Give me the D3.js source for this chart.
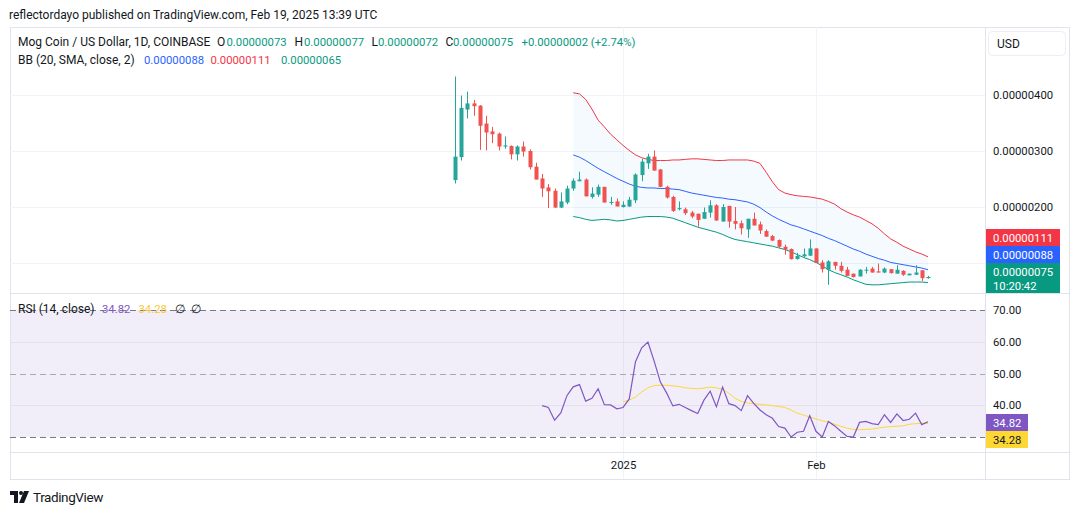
<!DOCTYPE html>
<html>
<head>
<meta charset="utf-8">
<script src="https://cdn.jsdelivr.net/npm/d3@7"></script>
<style>
  body { margin: 0; background: #fff; }
  text { font-family: Roboto, "Liberation Sans", sans-serif; fill: #131722; }
</style>
</head>
<body>
<div id="chart"></div>
<script>
// data (prices in units of 0.000001 USD)
const firstDay = '2024-12-05';
const lastDay = '2025-02-19';
const open  = [2.48,2.89,3.74,3.85,3.81,3.49,3.35,3.31,3.08,3.09,2.94,3.08,3.00,2.72,2.51,2.35,2.29,1.99,2.08,2.33,2.46,2.49,2.18,2.22,2.36,2.08,2.10,2.00,2.01,2.12,2.57,2.78,2.90,2.67,2.36,2.18,1.96,1.96,1.90,1.88,1.79,1.90,2.03,1.74,2.02,1.75,1.71,1.60,1.79,1.69,1.57,1.48,1.41,1.29,1.25,1.07,1.12,1.13,1.26,1.01,0.88,1.02,0.95,0.88,0.81,0.76,0.87,0.90,0.85,0.83,0.89,0.81,0.86,0.78,0.79,0.87,0.73];
const high  = [4.33,3.99,4.06,3.91,3.82,3.63,3.43,3.33,3.26,3.10,3.10,3.17,3.03,2.79,2.59,2.41,2.33,2.26,2.38,2.51,2.63,2.51,2.35,2.40,2.36,2.18,2.15,2.10,2.18,2.60,2.86,2.95,3.01,2.68,2.38,2.20,2.10,1.99,1.93,1.88,1.99,2.12,2.05,2.05,2.02,2.00,1.76,1.79,1.90,1.74,1.60,1.50,1.42,1.33,1.26,1.18,1.26,1.42,1.26,1.05,1.05,1.02,1.02,0.93,0.81,0.89,0.93,0.93,0.99,0.92,0.89,0.96,0.87,0.81,0.96,0.87,0.77];
const low   = [2.42,2.83,3.58,3.63,3.02,3.01,3.14,3.01,3.04,2.85,2.83,2.90,2.67,2.49,2.18,1.98,1.98,1.98,2.05,2.29,2.46,2.19,2.15,2.18,2.08,2.04,2.01,1.99,2.00,2.07,2.46,2.68,2.65,2.35,2.15,1.91,1.94,1.86,1.80,1.65,1.79,1.81,1.75,1.74,1.63,1.60,1.51,1.45,1.67,1.52,1.47,1.39,1.27,1.15,1.06,1.06,1.10,1.13,1.00,0.83,0.61,0.88,0.83,0.77,0.74,0.76,0.81,0.83,0.83,0.82,0.81,0.81,0.77,0.78,0.79,0.68,0.72];
const close = [2.90,3.77,3.85,3.80,3.45,3.33,3.30,3.08,3.10,2.94,3.08,2.99,2.71,2.49,2.33,2.28,1.99,2.10,2.33,2.47,2.49,2.19,2.24,2.36,2.08,2.09,2.01,2.04,2.13,2.58,2.81,2.90,2.65,2.36,2.17,1.93,1.98,1.89,1.83,1.77,1.91,2.03,1.76,2.00,1.74,1.70,1.62,1.79,1.67,1.58,1.47,1.40,1.29,1.24,1.07,1.125,1.155,1.26,1.00,0.89,1.03,0.95,0.86,0.77,0.75,0.88,0.88,0.83,0.83,0.90,0.82,0.88,0.79,0.81,0.83,0.73,0.75];

// Bollinger bands, from day 19 on
const bbStart = 19;
const bbUpper = [4.04,4.02,3.92,3.75,3.55,3.43,3.30,3.20,3.10,3.01,2.93,2.88,2.85,2.83,2.83,2.83,2.84,2.84,2.85,2.86,2.86,2.85,2.84,2.83,2.83,2.84,2.84,2.84,2.84,2.82,2.78,2.62,2.45,2.31,2.25,2.22,2.20,2.19,2.18,2.16,2.14,2.10,2.05,1.97,1.91,1.86,1.82,1.76,1.70,1.62,1.52,1.43,1.37,1.30,1.25,1.20,1.16,1.11];
const bbBasis = [2.93,2.89,2.83,2.76,2.69,2.63,2.57,2.51,2.46,2.41,2.37,2.35,2.34,2.34,2.33,2.33,2.32,2.31,2.28,2.25,2.23,2.21,2.19,2.17,2.16,2.14,2.13,2.11,2.09,2.05,1.99,1.91,1.84,1.78,1.73,1.68,1.65,1.61,1.57,1.53,1.49,1.44,1.40,1.35,1.30,1.25,1.21,1.16,1.12,1.08,1.05,1.01,0.99,0.97,0.95,0.93,0.91,0.88];
const bbLower = [1.83,1.81,1.78,1.76,1.77,1.78,1.77,1.75,1.76,1.78,1.80,1.82,1.83,1.83,1.83,1.82,1.80,1.76,1.72,1.68,1.64,1.61,1.58,1.55,1.51,1.46,1.42,1.40,1.38,1.36,1.34,1.32,1.30,1.27,1.24,1.20,1.15,1.10,1.06,1.01,0.95,0.88,0.83,0.79,0.75,0.70,0.66,0.62,0.61,0.61,0.62,0.63,0.64,0.65,0.66,0.66,0.66,0.65];

// RSI from day 14, its moving average from day 27
const rsiStart = 14;
const rsi = [39.9,39.3,35.3,37.6,43.1,45.8,46.5,41.3,42.2,45.2,40.2,40.1,38.9,39.3,42.0,53.7,58.1,59.9,53.9,47.3,43.9,39.8,40.3,39.3,38.3,37.4,41.6,44.4,39.5,45.7,40.5,39.9,38.3,43.0,40.6,38.5,37.0,35.9,33.3,32.8,30.0,31.5,31.8,36.7,31.8,30.0,34.9,33.5,31.8,30.2,30.0,34.6,34.9,34.2,33.9,37.0,34.6,37.3,35.2,35.6,37.5,33.9,34.82];
const rsiMaStart = 27;
const rsiMa = [41.1,41.6,42.6,44.2,45.5,46.2,46.3,46.3,46.1,45.9,45.5,45.3,45.2,45.4,45.7,45.5,45.0,43.8,42.2,41.2,40.7,40.5,40.3,40.1,39.9,39.6,39.3,38.5,37.5,36.9,36.3,35.7,35.1,34.7,34.0,33.4,32.8,32.4,32.3,32.4,32.5,32.8,33.1,33.3,33.4,33.5,34.0,34.2,34.3,34.28];

const priceTicks = [2, 3, 4];
const rsiTicks = [40, 50, 60, 70];
const rsiBands = [30, 50, 70];
const timeTicks = ['2025-01-01', '2025-02-01'];
const timeTickLabels = ['2025', 'Feb'];

// CHART START
const width = 1080;
const height = 515;
const frame = { left: 10, right: 1069, top: 27, bottom: 479, axisX: 985, paneSplit: 293, timeAxis: 452 };
const up = '#26a69a', down = '#ef5350';
const numSize = 11.3; // numbers are a bit narrower in the original

const svg = d3.select('div#chart').append('svg').attr('width', width).attr('height', height);

const parse = d3.utcParse('%Y-%m-%d');
const days = d3.utcDay.range(parse(firstDay), d3.utcDay.offset(parse(lastDay), 1));
const candles = days.map((d, i) => ({ date: d, o: open[i], h: high[i], l: low[i], c: close[i] }));

const x = d3.scaleUtc().domain([parse(firstDay), parse(lastDay)]).range([455, 928]);
const y = d3.scaleLinear().domain([1, 4]).range([263, 95]);
const yRsi = d3.scaleLinear().domain([30, 70]).range([437, 310]);
const fmtPrice = d => d3.format('.8f')(d * 1e-6);

// header
svg.append('text').attr('x', 9).attr('y', 19).attr('font-size', 12)
    .text('reflectordayo published on TradingView.com, Feb 19, 2025 13:39 UTC');

// frame
svg.append('rect').attr('x', frame.left + 0.5).attr('y', frame.top + 0.5)
    .attr('width', frame.right - frame.left).attr('height', frame.bottom - frame.top)
    .attr('fill', '#fff').attr('stroke', '#e0e3eb');

// grid
const gridGroup = svg.append('g').attr('class', 'grid');
gridGroup.selectAll('line.h').data(priceTicks.concat([1])).join('line')
    .attr('x1', frame.left).attr('x2', frame.axisX)
    .attr('y1', d => Math.round(y(d)) + 0.5).attr('y2', d => Math.round(y(d)) + 0.5)
    .attr('stroke', '#f0f3fa');

// RSI background
svg.append('rect').attr('x', frame.left + 1).attr('y', yRsi(70))
    .attr('width', frame.axisX - frame.left - 1).attr('height', yRsi(30) - yRsi(70))
    .attr('fill', 'rgba(126,87,194,0.1)');

svg.append('g').selectAll('line').data([40, 60]).join('line')
    .attr('x1', frame.left).attr('x2', frame.axisX)
    .attr('y1', d => Math.round(yRsi(d)) + 0.5).attr('y2', d => Math.round(yRsi(d)) + 0.5)
    .attr('stroke', '#e4e0ee');

// vertical grid
gridGroup.selectAll('line.v').data(timeTicks).join('line')
    .attr('x1', d => Math.round(x(parse(d))) + 0.5).attr('x2', d => Math.round(x(parse(d))) + 0.5)
    .attr('y1', frame.top).attr('y2', frame.bottom)
    .attr('stroke', '#f0f3fa');

// RSI band lines
svg.append('g').selectAll('line').data(rsiBands).join('line')
    .attr('x1', frame.left).attr('x2', frame.axisX)
    .attr('y1', d => Math.round(yRsi(d)) + 0.5).attr('y2', d => Math.round(yRsi(d)) + 0.5)
    .attr('stroke', d => d === 50 ? '#a8a8b0' : '#787b86')
    .attr('stroke-dasharray', '6,4');

// Bollinger bands
const bb = bbUpper.map((u, k) => ({ date: days[bbStart + k], u: u, m: bbBasis[k], l: bbLower[k] }));
const bbGroup = svg.append('g').attr('class', 'bb');
bbGroup.append('path').datum(bb)
    .attr('d', d3.area().x(d => x(d.date)).y0(d => y(d.l)).y1(d => y(d.u)))
    .attr('fill', 'rgba(33,150,243,0.05)');
[['u', '#f23645'], ['m', '#2962ff'], ['l', '#089981']].forEach(([k, col]) => {
    bbGroup.append('path').datum(bb)
        .attr('d', d3.line().x(d => x(d.date)).y(d => y(d[k])))
        .attr('fill', 'none').attr('stroke', col).attr('stroke-width', 1);
});

// candles
const cg = svg.append('g').attr('class', 'candles').selectAll('g').data(candles).join('g');
cg.append('line')
    .attr('x1', d => Math.round(x(d.date)) + 0.5).attr('x2', d => Math.round(x(d.date)) + 0.5)
    .attr('y1', d => y(d.h)).attr('y2', d => y(d.l))
    .attr('stroke', d => d.c >= d.o ? up : down);
cg.append('rect')
    .attr('x', d => Math.round(x(d.date)) - 1.5)
    .attr('y', d => y(Math.max(d.o, d.c)))
    .attr('width', 4)
    .attr('height', d => Math.max(1, Math.abs(y(d.o) - y(d.c))))
    .attr('fill', d => d.c >= d.o ? up : down);

// RSI lines
const rsiGroup = svg.append('g').attr('class', 'rsi');
rsiGroup.append('path').datum(rsiMa.map((v, k) => ({ date: days[rsiMaStart + k], v: v })))
    .attr('d', d3.line().x(d => x(d.date)).y(d => yRsi(d.v)))
    .attr('fill', 'none').attr('stroke', '#fdd835').attr('stroke-width', 1);
rsiGroup.append('path').datum(rsi.map((v, k) => ({ date: days[rsiStart + k], v: v })))
    .attr('d', d3.line().x(d => x(d.date)).y(d => yRsi(d.v)))
    .attr('fill', 'none').attr('stroke', '#7e57c2').attr('stroke-width', 1.2);

// separators
const sep = svg.append('g').attr('stroke', '#e0e3eb');
sep.append('line').attr('x1', frame.axisX + 0.5).attr('x2', frame.axisX + 0.5).attr('y1', frame.top).attr('y2', frame.bottom);
sep.append('line').attr('x1', frame.left).attr('x2', frame.right).attr('y1', frame.paneSplit + 0.5).attr('y2', frame.paneSplit + 0.5);
sep.append('line').attr('x1', frame.left).attr('x2', frame.right).attr('y1', frame.timeAxis + 0.5).attr('y2', frame.timeAxis + 0.5);

// axes
const styleTicks = g => g.call(s => s.select('.domain').remove())
    .selectAll('text').attr('font-size', numSize).attr('font-family', 'Roboto').attr('fill', '#131722');

svg.append('g').attr('transform', `translate(${frame.axisX},0)`)
    .call(d3.axisRight(y).tickValues(priceTicks).tickFormat(fmtPrice).tickSize(0).tickPadding(8))
    .call(styleTicks);

svg.append('g').attr('transform', `translate(${frame.axisX},0)`)
    .call(d3.axisRight(yRsi).tickValues(rsiTicks).tickFormat(d3.format('.2f')).tickSize(0).tickPadding(8))
    .call(styleTicks);

svg.append('g').attr('transform', `translate(0,${frame.timeAxis + 1})`)
    .call(d3.axisBottom(x).tickValues(timeTicks.map(parse)).tickFormat((d, i) => timeTickLabels[i]).tickSize(0).tickPadding(8))
    .call(styleTicks)
    .attr('font-size', 12);

// price labels on axis (stacked from the close upward)
const last = candles[candles.length - 1];
const greenTop = Math.round(y(last.c)) - 14;
const labels = [
    { top: greenTop, h: 30, fill: '#089981', lines: [fmtPrice(last.c), '10:20:42'] },
    { top: greenTop - 17, h: 17, fill: '#2962ff', lines: [fmtPrice(bbBasis[bbBasis.length - 1])] },
    { top: greenTop - 34, h: 17, fill: '#f23645', lines: [fmtPrice(bbUpper[bbUpper.length - 1])] },
];
labels.forEach(l => {
    svg.append('rect').attr('x', frame.axisX + 1).attr('y', l.top).attr('width', 74).attr('height', l.h).attr('fill', l.fill);
    l.lines.forEach((t, k) => {
        svg.append('text').attr('x', 993).attr('y', l.top + 12.5 + k * 14).attr('font-size', numSize)
            .style('fill', '#fff').text(t);
    });
});

// RSI labels
const rsiLast = rsi[rsi.length - 1], maLast = rsiMa[rsiMa.length - 1];
const purpleTop = Math.round(yRsi(rsiLast)) - 8;
svg.append('rect').attr('x', frame.axisX + 1).attr('y', purpleTop).attr('width', 42).attr('height', 17).attr('fill', '#7e57c2');
svg.append('text').attr('x', 993).attr('y', purpleTop + 12.5).attr('font-size', numSize).style('fill', '#fff').text(rsiLast.toFixed(2));
svg.append('rect').attr('x', frame.axisX + 1).attr('y', purpleTop + 17).attr('width', 42).attr('height', 17).attr('fill', '#fdd835');
svg.append('text').attr('x', 993).attr('y', purpleTop + 29.5).attr('font-size', numSize).style('fill', '#131722').text(maLast.toFixed(2));

// USD button
svg.append('rect').attr('x', 988.5).attr('y', 31.5).attr('width', 77).attr('height', 24).attr('rx', 4)
    .attr('fill', '#fff').attr('stroke', '#eceef3');
svg.append('text').attr('x', 997).attr('y', 48).attr('font-size', 12).text('USD');

// legends
const green = '#089981';
const legend = (yy, parts) => {
    const t = svg.append('text').attr('y', yy).attr('font-size', 12);
    parts.forEach(([s, col, px, num]) => t.append('tspan').attr('x', px).style('fill', col)
        .attr('font-size', num ? numSize : 12).text(s));
};
legend(46, [['Mog Coin / US Dollar, 1D, COINBASE', '#131722', 18], ['O', '#131722', 217], ['0.00000073', green, 226.5, 1],
    ['H', '#131722', 294.5], ['0.00000077', green, 304, 1], ['L', '#131722', 371.5], ['0.00000072', green, 378, 1],
    ['C', '#131722', 445.5], ['0.00000075', green, 453, 1], ['+0.00000002 (+2.74%)', green, 521.5, 1]]);
legend(64, [['BB (20, SMA, close, 2)', '#131722', 18], [fmtPrice(bbBasis[bbBasis.length - 1]), '#2962ff', 144, 1],
    [fmtPrice(bbUpper[bbUpper.length - 1]), '#f23645', 210.5, 1], [fmtPrice(bbLower[bbLower.length - 1]), green, 281, 1]]);
legend(313, [['RSI (14, close)', '#131722', 18], [rsiLast.toFixed(2), '#7e57c2', 102, 1], [maLast.toFixed(2), '#f9c834', 138.5, 1],
    ['\u2205', '#131722', 175], ['\u2205', '#131722', 191]]);

// TradingView logo
const logo = svg.append('g').attr('fill', '#131722');
logo.append('path').attr('d', 'M10,491 h8 v12 h-4 v-8 h-4 z');
logo.append('circle').attr('cx', 21).attr('cy', 493).attr('r', 2);
logo.append('path').attr('d', 'M24,491 h5 l-5,12 h-5 z');
svg.append('text').attr('x', 33).attr('y', 502).attr('font-size', 13.5).attr('letter-spacing', -0.4).text('TradingView');
</script>
</body>
</html>
